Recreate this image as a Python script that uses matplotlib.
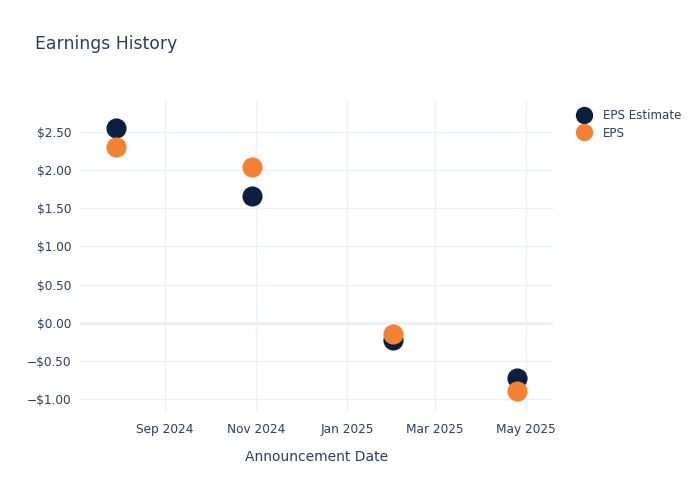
import matplotlib
matplotlib.use("Agg")
import matplotlib.pyplot as plt
import matplotlib.dates as mdates
import numpy as np
import datetime as dt

dates = ["2024-07-30", "2024-10-29", "2025-02-01", "2025-04-25"]
eps_estimate = [2.55, 1.66, -0.23, -0.72]
eps_actual = [2.31, 2.04, -0.15, -0.90]
y_ticks = [-1.0, -0.5, 0.0, 0.5, 1.0, 1.5, 2.0, 2.5]
x_ticks = ["2024-09-01", "2024-11-01", "2025-01-01", "2025-03-01", "2025-05-01"]

def to_dt(s):
    return dt.datetime.strptime(s, "%Y-%m-%d")

xd = [to_dt(d) for d in dates]

fig = plt.figure(figsize=(7, 5), dpi=100)
ax = fig.add_axes([80/700, 88/500, 473/700, 312/500])
text_col = "#2a3f5f"
grid_col = "#EBF0F8"

ax.plot(xd, eps_estimate, "o", ms=13.5, color="#0B1F40", label="EPS Estimate", zorder=3)
ax.plot(xd, eps_actual, "o", ms=13.5, color="#F58232", label="EPS", zorder=4)

ax.set_xlim(to_dt("2024-07-06"), to_dt("2025-05-19"))
ax.set_ylim(-1.17, 2.92)
ax.set_yticks(y_ticks)
ax.set_yticklabels([("\u2212$%.2f" % abs(v)) if v < 0 else ("$%.2f" % v) for v in y_ticks])
ax.set_xticks([to_dt(s) for s in x_ticks])
ax.xaxis.set_major_formatter(mdates.DateFormatter("%b %Y"))

for s in ax.spines.values():
    s.set_visible(False)
ax.grid(True, color=grid_col, lw=1, zorder=0)
ax.axhline(0, color=grid_col, lw=2, zorder=1)
ax.tick_params(length=0, labelsize=8.7, colors=text_col, pad=6)
ax.tick_params(axis="x", pad=8)
ax.set_xlabel("Announcement Date", fontsize=10, color=text_col, labelpad=10)

fig.text(35/700, 1-44/500, "Earnings History", fontsize=12.4, color=text_col, va="center", ha="left")

leg = ax.legend(loc="upper left", bbox_to_anchor=(567/700, 1-104/500), bbox_transform=fig.transFigure,
                frameon=False, fontsize=8.6, labelcolor=text_col, handletextpad=0.6,
                labelspacing=0.4, borderaxespad=0, markerscale=0.85)

fig.savefig("out.png", dpi=100, facecolor="white")
